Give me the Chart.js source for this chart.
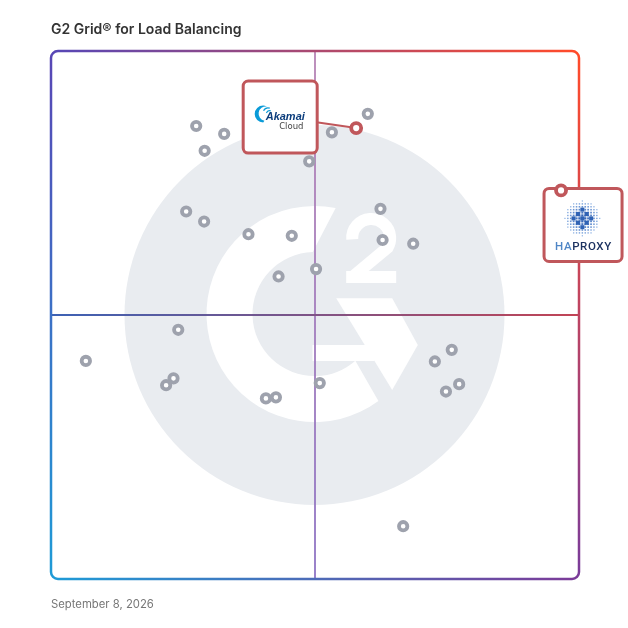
<!DOCTYPE html>
<html>
<head>
<meta charset="utf-8">
<script src="https://cdn.jsdelivr.net/npm/chart.js@4.4.1/dist/chart.umd.min.js"></script>
<style>
  body { margin: 0; background: #fff; }
  #wrap { position: relative; width: 628px; height: 628px; }
  #title { position: absolute; left: 51px; top: 22px; font: 600 14px/14px Inter, sans-serif; color: #333; white-space: nowrap; }
  #date { position: absolute; left: 51px; top: 598px; font: 400 11.3px/12px Inter, sans-serif; color: #777; white-space: nowrap; }
</style>
</head>
<body>
<div id="wrap">
  <canvas id="grid" width="628" height="628"></canvas>
  <div id="title">G2 Grid® for Load Balancing</div>
  <div id="date">September 8, 2026</div>
</div>
<script>
// Products on the grid (x = market presence, y = satisfaction, 0-100)
const productX = [27.5, 32.8, 29.1, 53.2, 60.0, 48.9, 25.6, 29.0, 37.4, 45.6, 62.4, 62.8, 68.6, 43.1, 50.2,
                  24.1, 6.6, 23.2, 21.8, 40.7, 42.6, 50.9, 75.9, 72.7, 77.3, 74.8, 66.7];
const productY = [85.8, 84.3, 81.1, 84.6, 88.1, 79.1, 69.6, 67.7, 65.3, 65.0, 70.1, 64.2, 63.5, 57.3, 58.7,
                  47.2, 41.3, 38.0, 36.7, 34.2, 34.4, 37.1, 43.4, 41.2, 36.9, 35.5, 10.0];

// Highlighted products
const featuredNames = ['Akamai Cloud', 'HAProxy'];
const featuredX = [57.8, 96.6];
const featuredY = [85.4, 73.6];

const RED = '#c0575b';
const deg = Math.PI / 180;

function drawWatermark(ctx, cx, cy) {
  ctx.save();
  ctx.translate(cx, cy);
  ctx.fillStyle = '#e9ecf0';
  ctx.beginPath();
  ctx.arc(0, 1, 190, 0, Math.PI * 2);
  ctx.fill();

  ctx.fillStyle = '#fff';
  // G arc
  ctx.beginPath();
  ctx.arc(0, 0, 108, 53.7 * deg, 281.3 * deg);
  ctx.arc(0, 0, 62, 268.4 * deg, 48.8 * deg, true);
  ctx.closePath();
  ctx.fill();
  // crossbar
  ctx.fillRect(-2, 31, 62, 16);
  // chevron
  ctx.beginPath();
  ctx.moveTo(21.7, -15.7);
  ctx.lineTo(77.7, -15.7);
  ctx.lineTo(103.3, 31);
  ctx.lineTo(77.7, 76);
  ctx.closePath();
  ctx.fill();
  // the "2"
  ctx.strokeStyle = '#fff';
  ctx.lineWidth = 12;
  ctx.beginPath();
  ctx.arc(56.7, -76, 19, 176 * deg, 390 * deg);
  ctx.lineTo(39, -38);
  ctx.stroke();
  ctx.fillRect(31.7, -43, 50, 12);
  ctx.restore();
}

function grad(ctx, x1, y1, x2, y2, c1, c2) {
  const g = ctx.createLinearGradient(x1, y1, x2, y2);
  g.addColorStop(0, c1);
  g.addColorStop(1, c2);
  return g;
}

function drawFrame(ctx, a) {
  const TL = '#5847b5', TR = '#ff4b2b', BR = '#7b3c99', BL = '#1f9ad6';
  const r = 7, L = a.left, T = a.top, R = a.right, B = a.bottom;
  ctx.save();
  ctx.lineWidth = 2.5;
  ctx.lineCap = 'butt';
  const seg = (x1, y1, x2, y2, c1, c2) => {
    ctx.strokeStyle = grad(ctx, x1, y1, x2, y2, c1, c2);
    ctx.beginPath(); ctx.moveTo(x1, y1); ctx.lineTo(x2, y2); ctx.stroke();
  };
  seg(L + r, T, R - r, T, TL, TR);
  seg(R, T + r, R, B - r, TR, BR);
  seg(L + r, B, R - r, B, BL, BR);
  seg(L, T + r, L, B - r, TL, BL);
  const corner = (x, y, a0, c) => {
    ctx.strokeStyle = c;
    ctx.beginPath(); ctx.arc(x, y, r, a0, a0 + Math.PI / 2); ctx.stroke();
  };
  corner(L + r, T + r, Math.PI, TL);
  corner(R - r, T + r, -Math.PI / 2, TR);
  corner(R - r, B - r, 0, BR);
  corner(L + r, B - r, Math.PI / 2, BL);
  ctx.restore();
}

function drawMidlines(ctx, a, mx, my) {
  ctx.save();
  ctx.lineWidth = 1.8;
  ctx.strokeStyle = grad(ctx, mx, a.top, mx, a.bottom, '#b784b5', '#8e74c4');
  ctx.beginPath(); ctx.moveTo(mx, a.top); ctx.lineTo(mx, a.bottom); ctx.stroke();
  ctx.strokeStyle = grad(ctx, a.left, my, a.right, my, '#3c62b5', '#c24455');
  ctx.beginPath(); ctx.moveTo(a.left, my); ctx.lineTo(a.right, my); ctx.stroke();
  ctx.restore();
}

function roundBox(ctx, cx, cy, w, h) {
  ctx.save();
  ctx.beginPath();
  ctx.roundRect(cx - w / 2, cy - h / 2, w, h, 5);
  ctx.fillStyle = '#fff';
  ctx.fill();
  ctx.lineWidth = 3;
  ctx.strokeStyle = RED;
  ctx.stroke();
  ctx.restore();
}

function drawAkamai(ctx, x, y) {
  ctx.save();
  // swoosh
  const sx = x - 17, sy = y - 3;
  ctx.fillStyle = '#0a9bd8';
  ctx.beginPath();
  ctx.arc(sx, sy, 8.5, 0.5 * Math.PI, 1.62 * Math.PI);
  ctx.arc(sx + 2.6, sy - 0.4, 7.2, 1.55 * Math.PI, 0.56 * Math.PI, true);
  ctx.closePath();
  ctx.fill();
  ctx.strokeStyle = '#0a9bd8';
  ctx.lineWidth = 1.2;
  ctx.beginPath(); ctx.arc(sx + 5, sy - 1, 5.2, 1.15 * Math.PI, 1.6 * Math.PI); ctx.stroke();
  ctx.beginPath(); ctx.arc(sx + 6.5, sy, 3.4, 1.1 * Math.PI, 1.6 * Math.PI); ctx.stroke();
  // wordmark
  ctx.fillStyle = '#0b3d7c';
  ctx.font = 'italic bold 11px "Liberation Sans", sans-serif';
  ctx.textBaseline = 'alphabetic';
  ctx.fillText('Akamai', x - 14.5, y + 3);
  ctx.fillStyle = '#444';
  ctx.font = '8.5px "DejaVu Sans", sans-serif';
  ctx.fillText('Cloud', x - 1, y + 11.7);
  ctx.restore();
}

function drawHAProxy(ctx, x, y) {
  ctx.save();
  const sx = x - 0.7, sy = y - 6.5, R = 17.5;
  const c0 = [38, 88, 175], c1 = [140, 178, 228];
  for (let i = -6; i <= 6; i++) {
    for (let j = -6; j <= 6; j++) {
      const d = Math.hypot(i, j) * 2.9;
      if (d > R) continue;
      const t = d / R;
      const s = 2.5 - 1.3 * t;
      const c = c0.map((v, k) => Math.round(v + (c1[k] - v) * t));
      ctx.fillStyle = `rgb(${c.join(',')})`;
      ctx.fillRect(sx + i * 2.9 - s / 2, sy + j * 2.9 - s / 2, s, s);
    }
  }
  ctx.fillStyle = '#2f62b4';
  for (let i = -2; i <= 2; i++) {
    for (let j = -2; j <= 2; j++) {
      if (Math.abs(i) + Math.abs(j) > 2 || (i + j) % 2 !== 0) continue;
      ctx.fillRect(sx + i * 4.4 - 2, sy + j * 4.4 - 2, 4, 4);
    }
  }
  ctx.font = '500 11.5px Roboto, sans-serif';
  ctx.letterSpacing = '0.6px';
  ctx.textBaseline = 'alphabetic';
  ctx.fillStyle = '#4f86c6';
  ctx.fillText('HA', x - 28, y + 24.8);
  const w = ctx.measureText('HA').width;
  ctx.fillStyle = '#1c3260';
  ctx.fillText('PROXY', x - 28 + w, y + 24.8);
  ctx.restore();
}

// box centre offsets from the highlighted point, and box size
const callouts = [
  { dx: -76, dy: -11, w: 74, h: 72, logo: drawAkamai },
  { dx: 22, dy: 34.5, w: 78, h: 73, logo: drawHAProxy }
];

const gridPlugin = {
  id: 'g2grid',
  beforeDatasetsDraw(chart) {
    const { ctx, chartArea: a, scales } = chart;
    const mx = scales.x.getPixelForValue(50);
    const my = scales.y.getPixelForValue(50);
    drawWatermark(ctx, mx - 0.5, my - 1);
    drawMidlines(ctx, a, mx, my);
    drawFrame(ctx, a);
  },
  afterDatasetDraw(chart, args) {
    // after the grey products, before the featured points
    if (args.index !== 1) return;
    const ctx = chart.ctx;
    chart.getDatasetMeta(0).data.forEach((pt, i) => {
      const c = callouts[i];
      const bx = pt.x + c.dx, by = pt.y + c.dy;
      ctx.save();
      ctx.strokeStyle = RED;
      ctx.lineWidth = 2;
      ctx.beginPath(); ctx.moveTo(bx, by); ctx.lineTo(pt.x, pt.y); ctx.stroke();
      ctx.restore();
      roundBox(ctx, bx, by, c.w, c.h);
      c.logo(ctx, bx, by);
    });
  }
};

new Chart(document.getElementById('grid'), {
  type: 'scatter',
  data: {
    datasets: [{
      label: 'Featured',
      data: featuredX.map((x, i) => ({ x, y: featuredY[i], name: featuredNames[i] })),
      pointRadius: 5,
      pointBorderWidth: 3.8,
      pointBorderColor: RED,
      pointBackgroundColor: '#fff',
      clip: false
    }, {
      label: 'Products',
      data: productX.map((x, i) => ({ x, y: productY[i] })),
      pointRadius: 4.2,
      pointBorderWidth: 3.8,
      pointBorderColor: '#9ea2ad',
      pointBackgroundColor: '#fff',
      clip: false
    }]
  },
  options: {
    responsive: false,
    animation: false,
    devicePixelRatio: 1,
    layout: { padding: { left: 51, top: 51, right: 49, bottom: 49 } },
    scales: {
      x: { min: 0, max: 100, display: false },
      y: { min: 0, max: 100, display: false }
    },
    plugins: { legend: { display: false }, tooltip: { enabled: false } }
  },
  plugins: [gridPlugin]
});
</script>
</body>
</html>
